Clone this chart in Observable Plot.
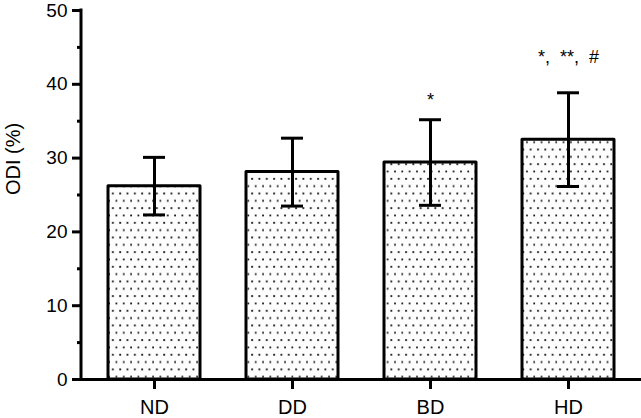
<!DOCTYPE html>
<html>
<head>
<meta charset="utf-8">
<script src="https://cdn.jsdelivr.net/npm/d3@7"></script>
<script src="https://cdn.jsdelivr.net/npm/@observablehq/plot@0.6"></script>
<style>
  html, body { margin: 0; padding: 0; background: #fff; }
  #chart { width: 641px; height: 418px; overflow: hidden; }
</style>
</head>
<body>
<div id="chart"></div>
<script>
const categories = ["ND", "DD", "BD", "HD"];
const means = [26.2, 28.1, 29.4, 32.5];
const sds = [3.9, 4.6, 5.8, 6.35];
const yTicks = [0, 10, 20, 30, 40, 50];
const yMinorTicks = [5, 15, 25, 35, 45];
const sigLabels = ["", "", "*", "*,\u00a0\u00a0**,\u00a0\u00a0#"];
const sigY = [null, null, 37.8, 43.7];
const yLabel = "ODI (%)";

const data = categories.map((c, i) => ({cat: c, mean: means[i], sd: sds[i]}));
const sig = categories.map((c, i) => ({cat: c, label: sigLabels[i], y: sigY[i]})).filter(d => d.label);

const font = "'Liberation Sans', Arial, Helvetica, sans-serif";

const svg = Plot.plot({
  width: 641,
  height: 418,
  marginLeft: 81,
  marginRight: 0,
  marginTop: 10,
  marginBottom: 39,
  style: {fontFamily: font, background: "white", color: "black", overflow: "visible"},
  x: {domain: categories, range: [81, 641], paddingInner: 0.33, paddingOuter: 0.18},
  y: {domain: [0, 50]},
  marks: [
    Plot.barY(data, {x: "cat", y: "mean", fill: "url(#dots)", stroke: "black", strokeWidth: 3, strokeLinejoin: "round"}),
    Plot.ruleX(data, {x: "cat", y1: d => d.mean - d.sd, y2: d => d.mean + d.sd, stroke: "black", strokeWidth: 3}),
    Plot.tickY(data, {x: "cat", y: d => d.mean + d.sd, stroke: "black", strokeWidth: 3, insetLeft: 35, insetRight: 35}),
    Plot.tickY(data, {x: "cat", y: d => d.mean - d.sd, stroke: "black", strokeWidth: 3, insetLeft: 35, insetRight: 35}),
    Plot.ruleY([0], {stroke: "black", strokeWidth: 3}),
    Plot.axisY({ticks: yMinorTicks, tickSize: 4, tickFormat: () => "", label: null, strokeWidth: 3}),
    Plot.axisY({ticks: yTicks, tickSize: 9, tickPadding: 5, fontSize: 19, strokeWidth: 3, label: null}),
    Plot.axisX({tickSize: 10, tickPadding: 10, fontSize: 20, strokeWidth: 3, label: null}),
    Plot.text([yLabel], {text: d => d, frameAnchor: "left", rotate: -90, dx: -68, fontSize: 20, fill: "black"}),
    Plot.text(sig, {x: "cat", y: "y", text: "label", fontSize: 18, fill: "black"})
  ]
});

const ns = "http://www.w3.org/2000/svg";
const defs = document.createElementNS(ns, "defs");
defs.innerHTML = `<pattern id="dots" patternUnits="userSpaceOnUse" width="7.33" height="14.66">
  <rect x="0" y="0" width="7.33" height="14.66" fill="#fdfdfd"></rect>
  <rect x="2" y="2" width="1.8" height="1.8" fill="#111"></rect>
  <rect x="5.66" y="9.33" width="1.8" height="1.8" fill="#111"></rect>
</pattern>`;
svg.insertBefore(defs, svg.firstChild);

// y-axis line drawn from the library's own y scale
const ys = svg.scale("y");
const yTop = ys.apply(yTicks[yTicks.length - 1]);
const yBot = ys.apply(0);
const axisLine = document.createElementNS(ns, "line");
axisLine.setAttribute("x1", 81); axisLine.setAttribute("x2", 81);
axisLine.setAttribute("y1", yTop - 1.5); axisLine.setAttribute("y2", yBot + 1.5);
axisLine.setAttribute("stroke", "black"); axisLine.setAttribute("stroke-width", 3);
svg.appendChild(axisLine);

document.getElementById("chart").appendChild(svg);
</script>
</body>
</html>
